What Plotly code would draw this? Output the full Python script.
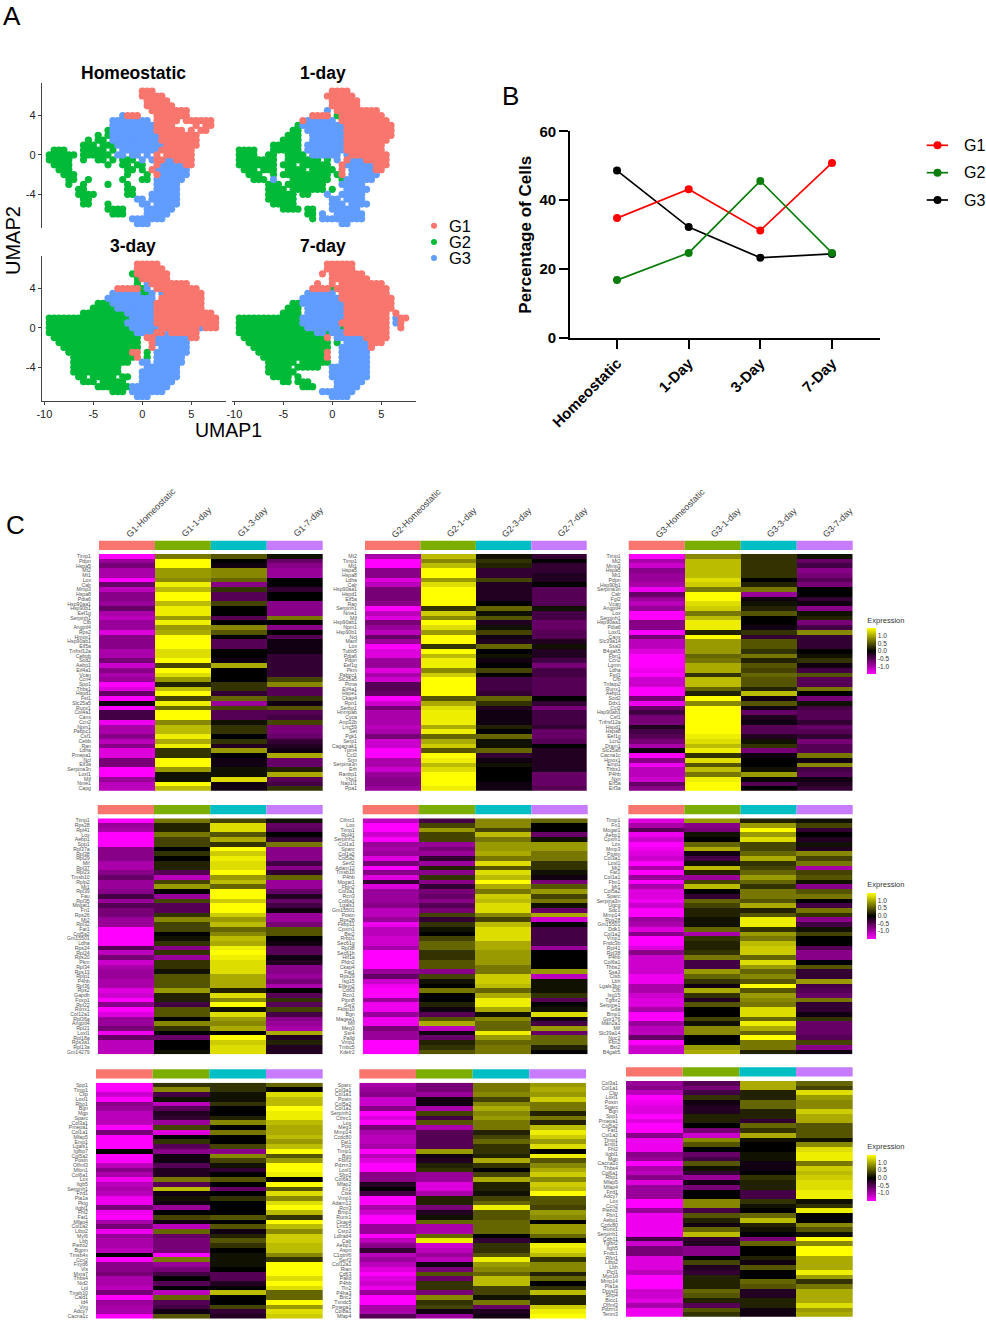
import numpy as np
import plotly.graph_objects as go

W, H = 986, 1322
FONT = "Liberation Sans"

# ---- panel A: UMAP cells, one map per time point
# column i is UMAP1 = -10 + 0.5*i, row j is UMAP2 = 7 - 0.5*j
# R = G1, G = G2, B = G3
umap_homeo = [
    "",
    "....................RRR",
    "....................RRRRR",
    ".....................RRRRR",
    ".....................RRRRRR",
    "......................RRRRRRRR",
    "................BRRR...RRRRRRR",
    "..............BBBBBBBB.RRRRR.RRRRRR",
    "..............BBBBBBBBBRRRR....R.RR",
    ".............GBBBBBBBBBRRRRRR.R.RR",
    "...........G.GBBBBBBBBBBRRRRRRRR",
    ".........G.GG.BBBBBBBBBBRRRRRRRR",
    "........GGG.GGGBBBBBBBBBBRRRRRRR",
    "..GGG...GGGGG.G.BBBBBBBBRRRRRRR",
    ".GGGGGG.GGGGGG.BB.BB.B.R.RRRRRR",
    ".GGGGG..G..GG.G.GGG.B.BRRBBRRRR",
    "..GGGG.......G..GG.GG..RBBBBBRR",
    "...GGG...........GG.G.RBBBBBBB",
    "....GGG..........G...G.RBBBBBB",
    ".....GG..G......G...GG.BBBBBB",
    ".....G..G....G...G.....BBBBB",
    ".......GG........GG....BBBBB",
    ".......GGGG......GG...BBBBBB",
    "........GG.........BB.BBBBBB",
    "........GG...G......BB.BBBBB",
    ".............GGGG....BBBBBB",
    "..............GGG....BBBBB",
    "..................BBBBBBB",
    "...................BBB",
]
umap_day1 = [
    "",
    "....................RRRR",
    "...................RRRRRR",
    "....................RRRRRR",
    "....................RRRRRR",
    "...................B.RRRRRRRRR",
    "................RRRR.GRRRRRRRRR",
    "..............RBBBBBB.RRRRRRRRRR",
    ".............GBBBBBBBBBRRRRRRRRRR",
    "............GG.BBBBBBBBRRRRRRRRRR",
    "...........GGG..BBBBBBBRRRRRRRRRR",
    "..........GGGG..BBBBBBBRRRRRRRRR",
    "........GGGGGG.BBBBBBBBRRRRRRRR",
    ".GGGG...GGGGGG.BBBBBBBBRRRRRRRR",
    ".GGGG..GG..GGGG.BBBBBB.BRRRRRRRR",
    ".GGGGGGGG..GGGGGGG.G.B.RBBBRRRRR",
    ".GGGGGGGG.GGG.GGGGGG..RBBBBBBRRR",
    "..GGG.GGG..GGGG.GGGGG.R.BBBBBRR",
    "...GGG..G.GGGGGGGGGG.GR.BBBBBB",
    "....GGG.B...GGGGGGGG..GBBBBBB",
    ".......GGG.GGGGGGGG...BBBBB",
    ".......GGGG.GGGGGGG.G..BBBBB",
    ".......GGGGGG.GG...B..BBBBB",
    ".......GGGGGG.......BB.BBBB",
    "........GGGGG.......BBB.BBBB",
    "..........GGGG.GG...BBBBBB",
    "...............GG.B..BBBBBB",
    "................G.BBBBBBBBB",
    "......................BB",
]
umap_day3 = [
    "",
    "...................RRRRR",
    "...................RRRRRR",
    "..................GRRRRRRR",
    "...................GRRRRRR",
    "...................G.BRRRRRRRR",
    "...............RRRRRGB.RRRRRRRRR",
    "..............BBBBBBGGB.BRRRRRRRR",
    ".............BBBBBBBBBB.RRRRRRRRR",
    "...........GGGBBBBBBBBBRRRRRRRRRR",
    "..........GGGGGBBBBBBBBRRRRRRRRRR",
    "........GGGGGGGGGBBBBBBRRRRRRRRRRRR",
    ".GGGGGGGGGGGGGGGGGBBBBBRRRRRRRRRRRRR",
    ".GGGGGGGGGGGGGGGGBBBBBBRRRRRRRRRRRRR",
    ".GGGGGGGGGGGGGGGGGBBBBBBRRRRRRRRBRRR",
    ".GGGGGGGGGGGGGGGGGGBBBBRRBRRRRRR",
    "..GGGGGGGGGGGGGGGGGG.RRBBBBBBBRR",
    "...GGGGGGGGGGGGGGGGG..RBBBBBBB",
    "....GGGGGGGGGGGGGGGG..R.BBBBBB",
    ".....GGGGGGGGGGGGGRR.G.BBBBBBB",
    "......GGGGGGGGGGGGGR.G.BBBBBB",
    "......GGGGGGGGGGGG..BB.BBBBBB",
    "......GGGGGGGGGG.....BBBBBBB",
    "......GGGGGGGGGG....BBBBBBBB",
    ".......GG.GGGGG.GG..BBBBBBBB",
    "........GGG.GGGGG...BBBBBBB",
    "...........GGGGGGGBBBBBBBB",
    "..............GGG.BBBBBBB",
    "...................BBB",
]
umap_day7 = [
    "",
    "...................RRRRRR",
    "...................RRRRRR",
    "..................R.RRRRRRR",
    "....................RRRRRRRR",
    ".................R..R.RRRRRRRRR",
    "................RRRRGRRRRRRRRRRR",
    "...............BBBBBB.RRRRRRRRRR",
    "..............BBBBBBBBRRRRRRRRRRR",
    "............GGBBBBBBBBBRRRRRRRRRR",
    "...........GGG.BBBBBBBBRRRRRRRRRR",
    "..........GGGG.BBBBBBBBRRRRRRRRR.R",
    ".GGGGGGGGGGGGGBBBBBBBBBRRRRRRRRR.BRR",
    ".GGGGGGGGGGGGGBBBBBBBBRRRRRRRRRR.BR",
    ".GGGGGGGGGGGGGGBBBBBBBGRRRRRRRRR..R",
    ".GGGGGGGGGGGGGGGGBBGBBBRRRRRRRRR",
    "..GGGGGGGGGGGGGGGGGR.BBBBBBRRRRR",
    "...GGGGGGGGGGGGGGGGG.G.BBBBBRRR",
    "....GGGGGGGGGGGGGGGG..BBBBBBR",
    ".....GGGGGGGGGGGGGGR..BBBBBB",
    "......GGGGGGGGGGGGGR..BBBBBB",
    ".......GGGGGG.GGGGGG..BBBBBB",
    ".......GGGGG.GGGGG..BBBBBBBB",
    ".......GGGGGG.......BBBBBBBB",
    "........GGGG.G......BBBBBBBB",
    "..........GG.GGG.....BBBBBB",
    "..............GGG....BBBBB",
    "..................BBBBBBB",
    "....................BBBB",
]
umap_titles = ["Homeostatic", "1-day", "3-day", "7-day"]
umap_colors = {"R": "#F8766D", "G": "#00BA38", "B": "#619CFF"}

# ---- panel B
days = ["Homeostatic", "1-Day", "3-Day", "7-Day"]
pct_g1 = [34.8, 43.2, 31.2, 50.8]
pct_g2 = [16.8, 24.7, 45.6, 24.7]
pct_g3 = [48.6, 32.2, 23.3, 24.4]

# ---- panel C: gene labels and scaled expression (tenths) per column
genes1 = ["Timp1","Pdpn","Hspa5","Mt2","Mt1","Lox","Calr","Mmp3","Hspa8","Pdia6","Hsp90aa1","Hsp90b1","Eef1g","Serpinh1","Cfb","Angptl4","Rps2","Hmox1","Hsp90ab1","Eif5a","Tnfrsf12a","Cebpb","Sod2","Aebp1","Eif4a1","Vcan","Ccn4","Spp1","Thbs1","Hspd1","Fst1","Slc25a5","Runx1","Col4a1","Canx","Ccn2","Npm1","Pabpc1","Csf1","Cebb","Ran","Ldha","Pmepa1","Ncl","Eif3a","Serpina3n","Loxl1","Mif","Nme1","Capg"]
h1_c1 = [-15,-9,-7,-10,-10,-15,-6,-11,-8,-8,-9,-6,-10,-11,-9,-9,-13,-8,-8,-8,-10,-10,-7,-12,-8,-10,-9,-15,-13,-6,-15,-1,-15,-4,-4,-14,-10,-10,-8,-11,-8,-13,-13,-7,-7,-15,-15,-9,-11,-11]
h1_c2 = [7,15,15,9,9,8,14,11,15,15,11,14,14,9,14,9,10,15,15,15,13,13,15,4,15,13,9,2,11,15,4,14,6,15,15,8,11,11,14,10,14,3,3,15,15,9,1,1,15,11]
h1_c3 = [5,0,-1,8,8,6,-8,3,-5,-5,4,0,0,-5,0,8,5,0,-5,-5,0,0,-1,10,0,0,0,3,3,-3,6,-9,4,-5,-5,1,3,3,0,3,-2,9,0,-1,-1,1,1,13,-1,-1]
h1_c4 = [1,-6,-8,-9,-9,0,0,-3,0,0,-8,-8,-8,7,0,-8,0,-5,-1,-1,-1,-3,-3,-3,-3,-3,4,8,-5,-5,3,-1,5,-5,-4,4,-7,-7,-6,-3,-2,-1,10,-6,-6,2,10,-5,-4,3]

genes2 = ["Mt2","Timp1","Mt1","Hspa5","Hspa8","Ldha","Calr","Hsp90aa1","Hspd1","Eif5a","Ran","Serpinh1","Nme1","Mif","Hsp90ab1","Npm1","Hsp90b1","Ncl","Manf","Lox","Tubb5","Pdia6","Pdpn","Eef1g","Pkm","Pabpc1","Slc25a5","Ptma","Eif4a1","Hspe1","Ckap4","Rpn1","Serbp1","Hnrnpab","Cyca","Anp32b","Lrrc59","Set","Pgk1","Serp1","Cagamak1","Tpm4","Ccl2","Srm","Serpina3n","Erh","Ranbp1","Ybx1","Nap1l1","Ppa1"]
h2_c1 = [-10,-15,-15,-8,-8,-13,-11,-7,-7,-7,-8,-15,-11,-13,-7,-9,-11,-6,-9,-15,-13,-13,-9,-9,-13,-10,-12,-5,-5,-6,-15,-12,-7,-10,-10,-10,-11,-10,-7,-12,-12,-15,-15,-10,-10,-12,-9,-8,-8,-9]
h2_c2 = [11,8,11,15,15,9,13,15,15,15,15,3,12,8,15,13,9,15,15,3,15,11,14,14,8,12,15,15,15,15,5,10,13,14,14,14,10,14,6,10,12,5,15,14,11,13,15,15,15,14]
h2_c3 = [1,3,2,-3,-3,4,-2,-2,-2,-2,0,6,1,5,-2,1,4,-1,-2,6,0,1,-1,0,4,0,-4,-4,-4,-3,6,3,-2,-1,-1,-1,2,0,6,1,1,6,-3,-1,1,0,0,0,-1,-1]
h2_c4 = [-3,0,-3,-3,-2,-2,0,-5,-5,-5,-5,1,-4,-4,-6,-6,-5,-5,-2,1,-2,-2,-4,-7,-4,-4,-5,-5,-5,-5,0,-3,-7,-4,-4,-4,-3,-6,-6,-5,0,-2,-2,-2,-2,-2,-6,-6,-6,-5]

genes3 = ["Timp1","Mt2","Mmp3","Hspa5","Mt1","Pdpn","Hsp90b1","Serpina3n","Calr","Fgl2","Vcan","Angptl4","Lox","Serpinh1","Hsp90aa1","Pdia6","Loxl1","Canx","Slc39a14","Ssa3","B4galt5","Fbn1","Ccn2","Lgmn","Ldha","Fstl1","Cfb","Tnfaip2","Runx1","Aebp1","Sod2","Ddx1","Ccl2","Hsp90ab1","Csf1","Tnfrsf12a","Hspd1","Hspa8","Eef1g","Lcn2","Dram1","Slc25a5","Cacna1c","Hmox1","Emp1","Thbs1","P4hb","Nxn","Eif5a","Eif3a"]
h3_c1 = [-15,-10,-12,-8,-9,-9,-10,-14,-6,-9,-11,-9,-15,-15,-8,-8,-15,-7,-11,-11,-13,-15,-15,-15,-14,-15,-12,-12,-15,-15,-7,-14,-6,-4,-7,-7,-2,-4,-5,-7,-10,-1,-15,-8,-14,-11,-11,-12,-6,-8]
h3_c2 = [8,11,11,11,11,13,12,7,15,15,13,12,7,11,14,14,2,15,9,9,9,6,7,10,10,3,11,11,6,2,15,8,15,15,15,15,15,15,14,13,11,14,3,13,5,11,7,14,15,15]
h3_c3 = [3,3,3,3,3,0,2,7,-9,-1,1,2,5,0,0,-1,3,-3,5,5,3,7,2,5,4,6,5,5,2,11,-1,5,-1,-6,-2,-1,-5,-5,-2,1,3,-7,-1,0,0,1,9,0,-5,0]
h3_c4 = [1,-6,-4,-8,-7,-5,-7,0,0,-3,-1,-8,1,2,-7,-4,8,-3,-3,-3,0,1,3,-1,-4,5,-5,-5,7,0,-7,1,-4,-5,-5,-3,-6,-5,-3,-7,-5,-5,7,-1,8,-4,-5,-1,-2,-3]

genes4 = ["Timp1","Rps28","Rpl41","Lox","Aebp1","Spp1","Rpl37a","Rpl38","Rpl29","Mif","Rpl37","Rpl23","Tmsb10","Rplp2","Mt1","Rpl39","Fau","Rpl35","Mogat1","Fn1","Rps26","Mt2","Rpl32","Fat1","Col5a2","Gm15501","Ldha","Rps24","Rpl24","Rps20","Pkm","Rpl34","Rps13","Rplp1","P4hb","Rpl36","Rps2","Gapdh","Foxp1","Rpl22","Runx1","Col12a1","Rpl36a","Angptl4","Rpl21","Loxl1","Rpl18a","Rps3a1","Rpl13a","Gm14279"]
h4_c1 = [-15,-9,-10,-15,-15,-15,-8,-8,-8,-10,-10,-8,-6,-9,-9,-8,-4,-9,-5,-7,-7,-9,-9,-15,-15,-15,-15,-5,-11,-7,-12,-10,-9,-9,-10,-10,-13,-12,-15,-8,-15,-13,-9,-9,-7,-14,-6,-11,-11,-11]
h4_c2 = [7,2,2,7,4,4,0,3,0,2,2,-5,-11,4,9,0,-9,4,-5,-5,3,8,4,4,0,1,3,-8,3,-9,3,3,1,5,5,5,9,2,2,-4,5,5,0,8,3,0,-6,0,0,1]
h4_c3 = [4,13,13,5,10,3,15,12,14,13,13,15,9,11,6,15,15,12,15,15,12,9,11,6,8,11,10,14,15,14,13,13,13,10,10,10,2,13,8,15,1,13,9,8,10,0,15,12,13,13]
h4_c4 = [1,-6,-5,0,-3,7,-8,-8,-8,-4,-8,-3,6,-9,-9,-6,-2,-6,-4,-1,-9,-9,-7,5,5,0,-1,-5,-5,-1,-2,-8,-8,-9,-7,-10,0,-5,3,-5,4,-4,-8,-9,-10,10,-2,2,-2,-2]

genes5 = ["Cthrc1","Lox","Timp1","Rpl41","Serpinh1","Col1a1","Sparc","Col1a2","Col5a2","Serf2","Adam12","Tmsb10","P4hb","Mogat1","Fbln2","Col3a1","Rcn3","Col6a1","Lgals1","Gm15501","Postn","Rps28","Fkbp11","Cpxm1","Bst2","Rrbp1","Sec61g","Rpl38","Sec61b","Hif1a","Pfdn2","Ckap4","Fat1","Rps29","Isg15","Elfem2","Cd63","Rcn1","Ptpn8","Ssr2","Fkbp10","Bgn","Magee1","Mif","Meg3","Ssr4","Palld","Vmp1","Tmbc5","Kdelr2"]
h5_c1 = [-11,-15,-15,-12,-15,-9,-10,-9,-13,-7,-15,-8,-13,-3,-13,-9,-9,-9,-8,-11,-11,-9,-14,-11,-11,-12,-12,-10,-15,-15,-15,-15,-9,-6,-12,-14,-15,-15,-9,-14,-14,-9,-14,-14,-7,-9,-9,-15,-15,-15]
h5_c2 = [-4,4,9,4,4,-9,-7,-9,-3,-9,2,-8,3,-8,-3,-7,-6,-8,-5,-7,4,-3,3,1,0,4,6,6,3,3,5,5,-8,4,1,0,7,0,0,2,-1,-5,5,10,-11,-1,-6,2,3,5]
h5_c3 = [8,8,4,11,7,9,9,10,7,13,5,13,11,15,10,7,12,11,13,13,8,4,11,13,13,13,10,10,9,9,9,7,7,12,12,11,6,10,14,14,10,1,8,6,6,14,9,6,7,7]
h5_c4 = [6,0,0,-6,1,9,9,7,7,3,3,1,-1,-7,5,9,4,7,1,-6,10,-12,0,-4,-4,-4,-4,-9,0,0,0,0,9,-11,1,1,1,3,-5,0,1,13,-1,-4,9,-6,6,6,2,0]

genes6 = ["Timp1","Fn1","Mogat1","Aebp1","Cpxm1","Lox","Mmp3","Postn","Col3a1","Loxl1","Mt2","Fat1","Col1a1","Fbn1","Mt1","Col5a2","Sparc","Serpina3n","Ugcg","Sdc1","Mmp14","Rps28","Gm15501","Ddk1","Col1a2","Vmp1","Fndc3b","Rpl41","Rpl38","P4hb","Col6a1","Thbs2","Ssa3","Ctsb","Lbh","Lgals3bp","Cfb","Isg15","Tgfbr2","Serpine1","Gda","Bmp1","Gpr176","Man2a1","Mif","Slc39a14","Npc2","Fbn2","Bst2","B4galt5"]
h6_c1 = [-13,-10,-5,-14,-12,-15,-14,-13,-12,-15,-10,-15,-9,-15,-10,-13,-13,-14,-12,-15,-15,-9,-10,-13,-8,-15,-15,-13,-8,-12,-12,-12,-12,-14,-14,-10,-10,-12,-13,-13,-10,-15,-15,-9,-11,-11,-6,-15,-12,-12]
h6_c2 = [9,-8,-7,1,0,6,10,-1,-4,1,11,2,-9,4,11,0,-3,6,4,2,2,1,1,6,-10,3,2,2,3,7,-4,-4,9,6,3,-1,10,3,-2,5,0,0,4,1,8,8,0,0,9,10]
h6_c3 = [2,9,15,9,13,4,4,6,10,3,4,6,9,6,3,7,7,5,10,2,5,14,14,3,9,7,11,12,12,6,13,9,6,8,5,15,5,9,8,7,13,13,6,14,10,6,15,7,7,2]
h6_c4 = [1,4,-3,0,-2,1,-2,8,4,7,-10,4,5,1,-8,5,7,0,-4,7,3,-8,-4,1,4,0,0,-5,-8,-8,0,5,-3,-3,9,-4,-5,-6,7,-3,-3,-1,3,-6,-6,-6,-5,4,-8,-1]

genes7 = ["Spp1","Timp1","Clip","Loxl1","Rbp1","Bgn","Mgp","Sparc","Col3a1","Pmepa1","Col1a1","Mfap5","Emp1","Lgals1","Igfbp7","Col5a2","Postn","Olfml3","Mfon1","Col6a1","Lox","Itgb5","Serpinh1","Fzd1","Pla1a","Pkig","Itgbl1","Fhl2","Fat1","Mfap4","Col1a2","Ltbp2","Myl6","Lbh","Piezo2","Bgpm","Tmsb4x","Ccn2","Fxyd6","Vis","Mxra7","Thbs4","Nid2","Lpl","Tmsb10","Cald1","Id4","Vim","Adcy7","Cacna1c"]
h7_c1 = [-15,-15,-12,-15,-8,-9,-11,-11,-11,-15,-7,-15,-15,-15,0,-15,-15,-11,-8,-10,-14,-11,-10,-11,-14,-14,-7,-14,-15,-10,-7,-14,-9,-10,-10,-11,0,-15,-8,-8,-7,-10,-10,-11,-7,-15,-9,-10,-10,-15]
h7_c2 = [3,8,-4,1,-11,-5,-2,-3,-9,4,-13,0,3,-5,-8,-1,-1,-5,-2,-2,7,-5,11,-1,1,-1,-9,0,4,-1,-11,6,-6,-7,-7,-7,-15,7,-9,-7,-4,0,-5,0,-11,6,-5,-4,-1,5]
h7_c3 = [3,3,1,1,3,0,0,2,8,0,7,0,0,4,-8,8,4,1,-3,0,5,0,-6,0,3,0,0,0,5,0,5,-1,2,5,3,0,1,1,1,0,-5,-5,-2,0,11,0,0,4,-3,-2]
h7_c4 = [6,0,13,11,11,15,14,14,11,10,10,11,9,11,15,5,9,15,15,14,0,15,5,13,8,13,15,11,3,15,11,8,12,12,11,11,8,3,15,15,15,13,15,13,6,6,15,9,13,12]

genes8 = ["Sparc","Col3a1","Col1a1","Postn","Col5a2","Col1a2","Serpinh1","Cthrc1","Lox","Meg3","Mmp14","Ccdc80","Fat1","Ppic","Timp1","Bgn","Fbln2","Pdzrn3","Loxl1","Sfrp2","Col6a1","Mfap2","Fn1","Ctsk","Vmp1","Adam12","Rcn3","Bmp1","Runx1","Ckap4","Lrrc15","Csrp2","Ldlrad4","Calr","Aebp1","Aspn","C1qtnf6","Serf2","Col12a1","Rian","Cd63","Palld","P4hb","Tln2","P4ha3","Bnc2","Txndc5","Pmepa1","Col8a1","Mfap4"]
h8_c1 = [-10,-9,-8,-12,-12,-8,-15,-13,-15,-7,-10,-11,-11,-10,-15,-11,-13,-15,-15,-8,-8,-2,0,-4,-15,-15,-10,-12,-15,-15,-9,-9,-15,-11,-8,-3,-11,-9,-11,-13,-15,-13,-12,-14,-9,-15,-15,-10,-10,-5]
h8_c2 = [-7,-7,-9,-1,-1,-10,4,-4,5,-10,-5,-5,-5,-5,9,-1,-2,2,3,-9,-9,-13,-13,-10,2,2,-7,-2,1,6,-10,-10,6,14,-12,-11,-9,-11,-1,-7,5,-6,3,3,-7,8,3,4,-1,-9]
h8_c3 = [7,7,8,4,8,10,8,9,7,7,2,4,6,3,3,2,10,3,0,4,10,2,2,1,4,6,14,5,5,6,6,6,0,-3,3,3,5,14,9,8,6,11,11,4,4,1,7,-6,-2,-1]
h8_c4 = [9,10,9,12,7,7,2,7,2,11,14,12,9,13,0,14,5,8,10,12,8,12,11,15,5,5,4,9,8,0,9,9,6,0,14,13,11,3,8,8,2,6,0,3,11,2,2,12,14,15]

genes9 = ["Col3a1","Col1a1","Clip","Loxl1","Postn","Sparc","Bgn","Spp1","Pmepa1","Col5a2","Fat1","Col1a2","Timp1","Emp1","Fhl2","Itgbl1","Mgp","Cacna1c","Thbs4","Col6a1","Rbp1","Mfap5","Mfap4","Fzd1","Adcy7","Lox","Ccn2","Piezo2","Fbn1","Aebp1","Ccdc80","Runx1","Serpinh1","Cdh11","Tgfbr2","Itgb5","Fndc1","Rftn1","Ltbp2","Lbh","Plcl1","Myo1d","Mmp14","Pla1a","Dpysl3","Sfrp4","Bicc1","Olfml3","Pdzrn3","Tenm3"]
h9_c1 = [-9,-8,-11,-15,-14,-13,-13,-15,-13,-15,-15,-8,-14,-14,-14,-8,-9,-15,-10,-11,-8,-13,-9,-9,-9,-15,-15,-9,-14,-14,-14,-14,-14,-4,-12,-7,-7,-13,-13,-13,-11,-15,-15,-15,-12,-12,-13,-10,-14,-14]
h9_c2 = [-5,-7,-4,3,-1,-2,-2,2,2,0,-7,-12,8,5,0,-6,-4,5,1,-3,-9,-1,-7,0,0,8,8,-4,5,2,-1,6,11,-3,-2,-8,-8,0,4,-2,-3,2,2,2,6,5,2,-5,5,3]
h9_c3 = [10,10,2,2,6,6,2,2,-3,6,3,10,1,0,0,1,1,-1,-1,0,3,2,2,-4,-4,3,1,0,6,11,2,1,0,-7,6,0,0,2,-1,5,0,0,6,5,-2,-2,2,2,-1,-1]
h9_c4 = [6,4,13,9,8,8,12,10,10,5,5,5,1,8,13,14,14,7,12,11,12,13,13,14,14,1,3,14,0,0,8,5,1,15,8,15,15,10,10,10,14,9,3,7,10,10,10,13,9,10]

group_names = ["G1", "G2", "G3"]
stage_names = ["Homeostatic", "1-day", "3-day", "7-day"]
bar_colors = ["#F8766D", "#7CAE00", "#00BFC4", "#C77CFF"]
heat_scale = [[0, "#ff00ff"], [0.5, "#000000"], [1, "#ffff00"]]
cbar_ticks = [-1.0, -0.5, 0.0, 0.5, 1.0]
cbar_labels = ["-1.0", "-0.5", "0.0", "0.5", "1.0"]


def px(x):
    return x / W


def py(y):
    return 1 - y / H


def read_map(rows, code):
    xs, ys = [], []
    for j, row in enumerate(rows):
        for i, c in enumerate(row):
            if c == code:
                xs.append(-10 + 0.5 * i)
                ys.append(7 - 0.5 * j)
    return xs, ys


fig = go.Figure()
shapes = []
notes = []


def note(x, y, text, size, bold=False, color="#000000", xanchor="center", yanchor="middle", **kw):
    notes.append(dict(x=px(x), y=py(y), xref="paper", yref="paper", text=text, showarrow=False,
                      xanchor=xanchor, yanchor=yanchor,
                      font=dict(family=FONT, size=size, color=color, weight=700 if bold else 400), **kw))


# UMAP panels: (map, left, right, top, bottom, show y axis, show x axis)
umap_panels = [
    (umap_homeo, 41.7, 226, 83, 228, True, False),
    (umap_day1, 231.7, 416, 83, 228, False, False),
    (umap_day3, 41.7, 226, 256, 400.7, True, True),
    (umap_day7, 231.7, 416, 256, 400.7, False, True),
]
title_pos = [(133.3, 72.7), (323.3, 72.7), (133.3, 246), (323.3, 246)]
ax = 1
for n, (rows, l, r, t, b, show_y, show_x) in enumerate(umap_panels):
    for code in "GBR":
        xs, ys = read_map(rows, code)
        fig.add_trace(go.Scatter(x=xs, y=ys, mode="markers", showlegend=False, xaxis=f"x{ax}", yaxis=f"y{ax}",
                                 marker=dict(size=7.2, color=umap_colors[code])))
    fig.layout[f"xaxis{ax}"] = dict(domain=[px(l), px(r)], anchor=f"y{ax}", range=[-10.27, 8.55], visible=show_x,
                                    showgrid=False, zeroline=False, showline=True, linecolor="#444444", linewidth=1,
                                    ticks="outside", ticklen=3, tickcolor="#444444", tickmode="array",
                                    tickvals=[-10, -5, 0, 5], ticktext=["-10", "-5", "0", "5"],
                                    tickfont=dict(family=FONT, size=11, color="#222222"))
    fig.layout[f"yaxis{ax}"] = dict(domain=[py(b), py(t)], anchor=f"x{ax}", range=[-7.43, 7.32], visible=show_y,
                                    showgrid=False, zeroline=False, showline=True, linecolor="#444444", linewidth=1,
                                    ticks="outside", ticklen=3, tickcolor="#444444", tickmode="array",
                                    tickvals=[-4, 0, 4], ticktext=["-4", "0", "4"],
                                    tickfont=dict(family=FONT, size=11, color="#222222"))
    note(title_pos[n][0], title_pos[n][1], umap_titles[n], 17.5, bold=True)
    ax += 1

note(13, 241, "UMAP2", 20, textangle=-90)
note(228.5, 430, "UMAP1", 19.5)
for name, code, y in zip(group_names, "RGB", [225.7, 242, 258]):
    shapes.append(dict(type="circle", xref="paper", yref="paper", x0=px(431), x1=px(437), y0=py(y + 3), y1=py(y - 3),
                       fillcolor=umap_colors[code], line_width=0))
    note(447, y, name, 16.5, xanchor="left")

# percentage panel
b_ax = ax
for vals, color in [(pct_g3, "#000000"), (pct_g1, "#ff0000"), (pct_g2, "#0a7d0a")]:
    fig.add_trace(go.Scatter(x=days, y=vals, mode="lines+markers", showlegend=False, xaxis=f"x{b_ax}", yaxis=f"y{b_ax}",
                             line=dict(color=color, width=1.7), marker=dict(size=8, color=color)))
fig.layout[f"xaxis{b_ax}"] = dict(domain=[px(570), px(880)], anchor=f"y{b_ax}", type="category", range=[-0.656, 3.67],
                                  showgrid=False, zeroline=False, showline=True, linecolor="#000000", linewidth=1.7,
                                  ticks="outside", ticklen=9, tickwidth=1.7, tickcolor="#000000", tickangle=-45,
                                  tickfont=dict(family=FONT, size=15, color="#000000", weight=700))
fig.layout[f"yaxis{b_ax}"] = dict(domain=[py(338), py(131.3)], anchor=f"x{b_ax}", range=[0, 60], tickvals=[0, 20, 40, 60],
                                  showgrid=False, zeroline=False, showline=True, linecolor="#000000", linewidth=1.7,
                                  ticks="outside", ticklen=9, tickwidth=1.7, tickcolor="#000000",
                                  tickfont=dict(family=FONT, size=15, color="#000000", weight=700))
ax += 1
note(526, 234.7, "Percentage of Cells", 17, bold=True, textangle=-90)
for name, color, y in zip(group_names, ["#ff0000", "#0a7d0a", "#000000"], [145.3, 172.7, 200]):
    shapes.append(dict(type="line", xref="paper", yref="paper", x0=px(926.7), x1=px(948), y0=py(y), y1=py(y),
                       line=dict(color=color, width=1.7)))
    shapes.append(dict(type="circle", xref="paper", yref="paper", x0=px(933.5), x1=px(941.5), y0=py(y + 4), y1=py(y - 4),
                       fillcolor=color, line_width=0))
    note(961.7, y, name, 16, xanchor="left")

note(12, 16, "A", 26)
note(510, 96, "B", 26)
note(15, 525, "C", 26)

# heatmaps: genes, columns, left, right, bar top, heat top, heat bottom, colour axis
heat_panels = [
    (genes1, [h1_c1, h1_c2, h1_c3, h1_c4], 99, 322.7, 540.7, 554, 790.7, "coloraxis"),
    (genes2, [h2_c1, h2_c2, h2_c3, h2_c4], 365, 586.7, 540.7, 554, 790.7, "coloraxis"),
    (genes3, [h3_c1, h3_c2, h3_c3, h3_c4], 628.7, 852.7, 540.7, 554, 790.7, "coloraxis"),
    (genes4, [h4_c1, h4_c2, h4_c3, h4_c4], 97.7, 322.7, 805, 818.3, 1054.3, "coloraxis2"),
    (genes5, [h5_c1, h5_c2, h5_c3, h5_c4], 362.7, 587.7, 805, 818.3, 1054.3, "coloraxis2"),
    (genes6, [h6_c1, h6_c2, h6_c3, h6_c4], 628.3, 852.7, 805, 818.3, 1054.3, "coloraxis2"),
    (genes7, [h7_c1, h7_c2, h7_c3, h7_c4], 96, 322.7, 1069.3, 1082.7, 1318.7, "coloraxis3"),
    (genes8, [h8_c1, h8_c2, h8_c3, h8_c4], 359.3, 586, 1069.3, 1082.7, 1318.7, "coloraxis3"),
    (genes9, [h9_c1, h9_c2, h9_c3, h9_c4], 626, 852.7, 1067.3, 1081, 1316.7, "coloraxis3"),
]
for n, (genes, cols, l, r, bar_t, t, b, caxis) in enumerate(heat_panels):
    z = np.array(cols).T / 10
    fig.add_trace(go.Heatmap(z=z, x=stage_names, y=list(range(len(genes))), coloraxis=caxis,
                             xaxis=f"x{ax}", yaxis=f"y{ax}", hoverinfo="skip"))
    fig.layout[f"xaxis{ax}"] = dict(domain=[px(l), px(r)], anchor=f"y{ax}", showticklabels=False, ticks="",
                                    showgrid=False, zeroline=False)
    fig.layout[f"yaxis{ax}"] = dict(domain=[py(b), py(t)], anchor=f"x{ax}", range=[len(genes) - 0.5, -0.5],
                                    tickmode="array", tickvals=list(range(len(genes))), ticktext=genes, ticks="",
                                    showgrid=False, zeroline=False, ticklabelstandoff=7,
                                    tickfont=dict(family=FONT, size=5.2, color="#555555"))
    w = (r - l) / 4
    for c in range(4):
        shapes.append(dict(type="rect", xref="paper", yref="paper", x0=px(l + c * w), x1=px(l + (c + 1) * w),
                           y0=py(bar_t + 9.3), y1=py(bar_t), fillcolor=bar_colors[c], line_width=0))
        if n < 3:
            note(l + (c + 0.5) * w - 6, bar_t + 1.5, f"{group_names[n]}-{stage_names[c]}", 9, color="#444444",
                 textangle=-45, xanchor="left", yanchor="bottom")
    ax += 1


def heat_axis(top):
    return dict(colorscale=heat_scale, cmin=-1.5, cmax=1.5,
                colorbar=dict(x=px(867.3), xanchor="left", y=py(top - 12), yanchor="top", lenmode="pixels", len=60,
                              thicknessmode="pixels", thickness=9.4, xpad=0, ypad=0, outlinewidth=0,
                              tickmode="array", tickvals=cbar_ticks, ticktext=cbar_labels, ticks="",
                              tickfont=dict(family=FONT, size=6.5, color="#333333"),
                              title=dict(text="Expression", side="top", font=dict(family=FONT, size=7.5, color="#333333"))))


fig.update_layout(template="none", width=W, height=H, margin=dict(l=0, r=0, t=0, b=0, autoexpand=False),
                  paper_bgcolor="white", plot_bgcolor="white",
                  showlegend=False, shapes=shapes, annotations=notes,
                  coloraxis=heat_axis(626), coloraxis2=heat_axis(890.7), coloraxis3=heat_axis(1152.7))

fig.write_html("out.html", config={"displayModeBar": False}, post_script="document.body.style.margin='0';")
